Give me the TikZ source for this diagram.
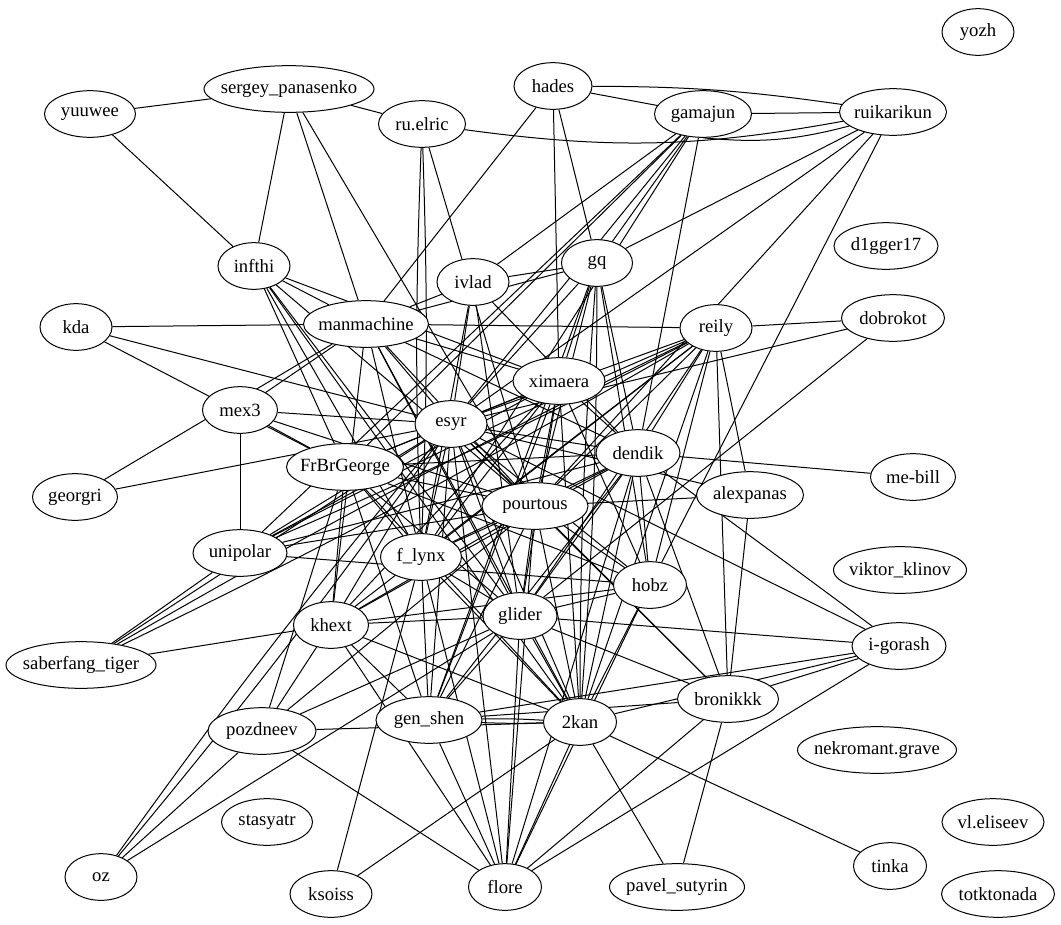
\documentclass[tikz,border=0pt]{standalone}
\usepackage{fontspec}
\setmainfont{Liberation Serif}
\usetikzlibrary{shapes.geometric,backgrounds}
\tikzset{
  nd/.style={ellipse, draw, fill=white, line width=0.75pt, minimum height=35pt, inner sep=0pt, font=\fontsize{14}{16}\selectfont},
  ed/.style={line width=0.75pt}
}
\newcommand{\GN}[5]{\node[nd, minimum width=#4*0.75pt] (#1) at (#2,#3) {\makebox[0pt]{#5}};}
\begin{document}
\begin{tikzpicture}[x=0.75pt,y=-0.75pt]
\useasboundingbox (0,0) rectangle (1061,925);
\GN{yozh}{978}{32}{72}{yozh}
\GN{sergey}{289}{89}{170}{sergey\_panasenko}
\GN{hades}{553}{86}{78}{hades}
\GN{gamajun}{703}{114}{97}{gamajun}
\GN{ruikarikun}{893}{112}{107}{ruikarikun}
\GN{yuuwee}{90}{114}{91}{yuuwee}
\GN{ruelric}{422}{124}{87}{ru.elric}
\GN{dgger}{886}{246}{104}{d1gger17}
\GN{infthi}{254}{266}{72}{infthi}
\GN{ivlad}{473}{282}{72}{ivlad}
\GN{gq}{597}{263}{71}{gq}
\GN{kda}{76}{327}{72}{kda}
\GN{manmachine}{366}{324}{125}{manmachine}
\GN{reily}{716}{328}{72}{reily}
\GN{dobrokot}{893}{318}{103}{dobrokot}
\GN{ximaera}{559}{381}{92}{ximaera}
\GN{mex3}{240}{410}{75}{mex3}
\GN{esyr}{451}{424}{72}{esyr}
\GN{dendik}{638}{453}{84}{dendik}
\GN{FrBrGeorge}{345}{467}{117}{FrBrGeorge}
\GN{mebill}{913}{477}{85}{me-bill}
\GN{georgri}{75}{497}{85}{georgri}
\GN{alexpanas}{750}{495}{107}{alexpanas}
\GN{pourtous}{535}{506}{106}{pourtous}
\GN{unipolar}{240}{553}{94}{unipolar}
\GN{flynx}{421}{557}{81}{f\_lynx}
\GN{viktor}{900}{570}{133}{viktor\_klinov}
\GN{hobz}{650}{585}{73}{hobz}
\GN{khext}{331}{625}{75}{khext}
\GN{glider}{520}{616}{74}{glider}
\GN{igorash}{899}{646}{94}{i-gorash}
\GN{saberfang}{81}{665}{150}{saberfang\_tiger}
\GN{bronikkk}{728}{699}{101}{bronikkk}
\GN{genshen}{429}{720}{106}{gen\_shen}
\GN{kan}{580}{722}{73}{2kan}
\GN{pozdneev}{262}{731}{108}{pozdneev}
\GN{nekromant}{877}{750}{159}{nekromant.grave}
\GN{stasyatr}{267}{822}{91}{stasyatr}
\GN{vleliseev}{993}{822}{102}{vl.eliseev}
\GN{oz}{101}{877}{72}{oz}
\GN{ksoiss}{331}{894}{82}{ksoiss}
\GN{flore}{505}{887}{73}{flore}
\GN{pavel}{677}{887}{135}{pavel\_sutyrin}
\GN{tinka}{890}{866}{73}{tinka}
\GN{totktonada}{998}{894}{113}{totktonada}
\begin{scope}[on background layer]
\fill[white] (0,0) rectangle (1061,925);
\foreach \a/\b in {
yuuwee/sergey, yuuwee/infthi, sergey/infthi, sergey/ruelric, sergey/manmachine, sergey/pourtous,
ruelric/pourtous,
hades/gamajun, hades/manmachine, hades/ximaera, hades/gq,
gamajun/ivlad, gamajun/gq, gamajun/dendik, gamajun/FrBrGeorge, gamajun/unipolar, gamajun/flynx, gamajun/esyr,
gamajun/ruikarikun,
ruikarikun/gq, ruikarikun/esyr, ruikarikun/pourtous, ruikarikun/hobz,
dobrokot/reily, dobrokot/esyr, dobrokot/glider,
mebill/dendik,
kda/manmachine, kda/esyr, kda/FrBrGeorge,
infthi/manmachine, infthi/ximaera, infthi/FrBrGeorge, infthi/glider, infthi/kan, infthi/pourtous, infthi/flynx,
georgri/manmachine, georgri/esyr,
mex3/unipolar, mex3/esyr, mex3/FrBrGeorge, mex3/pourtous, mex3/manmachine,
unipolar/saberfang, unipolar/hobz, unipolar/esyr, unipolar/dendik, unipolar/pourtous, unipolar/ximaera,
saberfang/khext, saberfang/esyr,
oz/pozdneev, oz/glider,
pozdneev/khext, pozdneev/FrBrGeorge, pozdneev/pourtous, pozdneev/glider, pozdneev/kan, pozdneev/flore,
khext/FrBrGeorge, khext/glider, khext/kan, khext/genshen, khext/flore, khext/hobz, khext/esyr, khext/ximaera,
ksoiss/kan, ksoiss/flynx,
flore/genshen, flore/glider, flore/pourtous, flore/hobz, flore/kan, flore/bronikkk, flore/igorash, flore/flynx,
kan/tinka, kan/pavel, bronikkk/pavel,
bronikkk/alexpanas, bronikkk/reily, bronikkk/igorash, bronikkk/genshen, bronikkk/glider, bronikkk/dendik, bronikkk/pourtous,
igorash/dendik, igorash/esyr, igorash/glider, igorash/genshen, igorash/kan,
alexpanas/reily, alexpanas/pourtous, alexpanas/esyr,
reily/hobz, reily/manmachine, reily/esyr, reily/pourtous, reily/glider, reily/dendik, reily/flynx, reily/kan, reily/khext,
manmachine/ivlad, manmachine/gq, manmachine/esyr, manmachine/ximaera, manmachine/dendik, manmachine/pourtous, manmachine/flynx, manmachine/khext, manmachine/glider, manmachine/kan,
ivlad/gq, ivlad/esyr, ivlad/flynx, ivlad/glider, ivlad/dendik,
gq/ximaera, gq/dendik, gq/esyr, gq/genshen, gq/pourtous, gq/hobz,
esyr/ximaera, esyr/dendik, esyr/pourtous, esyr/FrBrGeorge, esyr/flynx, esyr/glider, esyr/hobz, esyr/kan, esyr/genshen, esyr/flore, esyr/bronikkk,
ximaera/dendik, ximaera/pourtous, ximaera/FrBrGeorge, ximaera/flynx, ximaera/glider, ximaera/kan, ximaera/genshen, ximaera/hobz,
dendik/pourtous, dendik/FrBrGeorge, dendik/glider, dendik/hobz, dendik/kan, dendik/genshen, dendik/khext, dendik/flynx, dendik/flore,
pourtous/FrBrGeorge, pourtous/flynx, pourtous/glider, pourtous/hobz, pourtous/kan, pourtous/genshen, pourtous/khext,
FrBrGeorge/flynx, FrBrGeorge/glider, FrBrGeorge/kan, FrBrGeorge/hobz, FrBrGeorge/genshen,
flynx/genshen, flynx/glider, flynx/kan,
glider/genshen, glider/kan, glider/hobz,
hobz/kan}
  \draw[ed] (\a) -- (\b);
\foreach \a/\b in {ruelric/flynx, unipolar/reily, gq/kan, oz/esyr, genshen/kan, saberfang/reily}{
  \draw[ed] (\a) to[bend left=2] (\b);
  \draw[ed] (\a) to[bend right=2] (\b);
}
\draw[ed] (hades) to[bend left=4] (ruikarikun);
\draw[ed] (gamajun.south) to[bend right=10] (ruikarikun);
\draw[ed] (ruelric) to[bend right=9] (ruikarikun);
\end{scope}
\end{tikzpicture}
\end{document}
